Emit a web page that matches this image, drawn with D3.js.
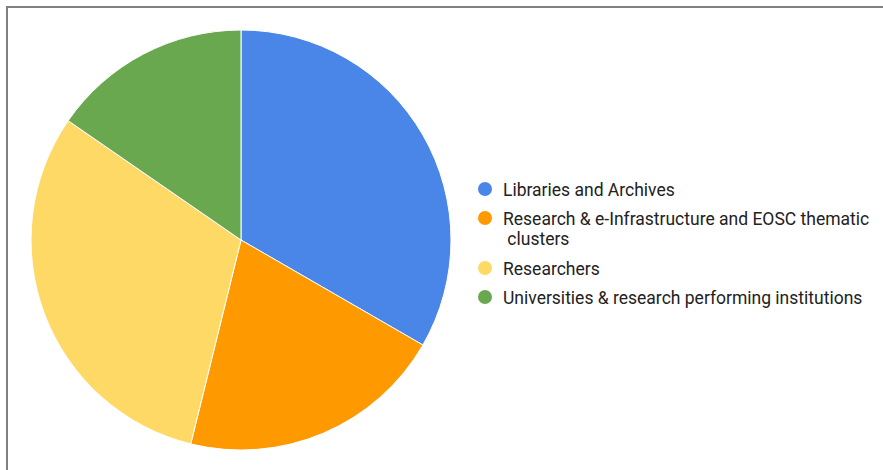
<!DOCTYPE html>
<html>
<head>
<meta charset="utf-8">
<script src="https://cdn.jsdelivr.net/npm/d3@7"></script>
<style>
  html, body { margin: 0; padding: 0; background: #fff; }
  svg { display: block; }
</style>
</head>
<body>
<svg id="chart" width="883" height="470"></svg>
<script>
// Stakeholder groups and their response counts
const categories = [
  "Libraries and Archives",
  "Research & e-Infrastructure and EOSC thematic clusters",
  "Researchers",
  "Universities & research performing institutions"
];
const values = [26, 16, 24, 12];
const colors = ["#4a86e8", "#ff9900", "#ffd966", "#6aa84f"];
// Legend text, wrapped the way it is printed
const legendLines = [
  ["Libraries and Archives"],
  ["Research & e-Infrastructure and EOSC thematic", " clusters"],
  ["Researchers"],
  ["Universities & research performing institutions"]
];

const svg = d3.select("#chart");

// Frame on the top and left edges
svg.append("line").attr("x1", 7).attr("y1", 7).attr("x2", 883).attr("y2", 7)
  .attr("stroke", "#808080").attr("stroke-width", 2);
svg.append("line").attr("x1", 7).attr("y1", 6).attr("x2", 7).attr("y2", 470)
  .attr("stroke", "#808080").attr("stroke-width", 2);

const cx = 241, cy = 240, radius = 210;
const color = d3.scaleOrdinal().domain(categories).range(colors);

const pie = d3.pie().sort(null).value(d => d.value);
const arc = d3.arc().innerRadius(0).outerRadius(radius);
const data = categories.map((c, i) => ({ name: c, value: values[i] }));

svg.append("g")
  .attr("transform", `translate(${cx},${cy})`)
  .selectAll("path")
  .data(pie(data))
  .join("path")
  .attr("d", arc)
  .attr("fill", d => color(d.data.name))
  .attr("stroke", "#ffffff")
  .attr("stroke-width", 1);

// Legend
const legendX = 485;
const rowY = [189, 218, 268, 297];
const lineH = 20;
const lg = svg.append("g");
categories.forEach((c, i) => {
  lg.append("circle")
    .attr("cx", legendX).attr("cy", rowY[i]).attr("r", 7)
    .attr("fill", color(c));
  const t = lg.append("text")
    .attr("x", 503).attr("y", rowY[i] + 7)
    .attr("font-family", "Roboto, 'Noto Sans', sans-serif")
    .attr("font-size", 17.5)
    .attr("fill", "#222222")
    .attr("xml:space", "preserve")
    .style("white-space", "pre");
  legendLines[i].forEach((ln, j) => {
    t.append("tspan").attr("x", 503).attr("dy", j === 0 ? 0 : lineH).text(ln);
  });
});
</script>
</body>
</html>
